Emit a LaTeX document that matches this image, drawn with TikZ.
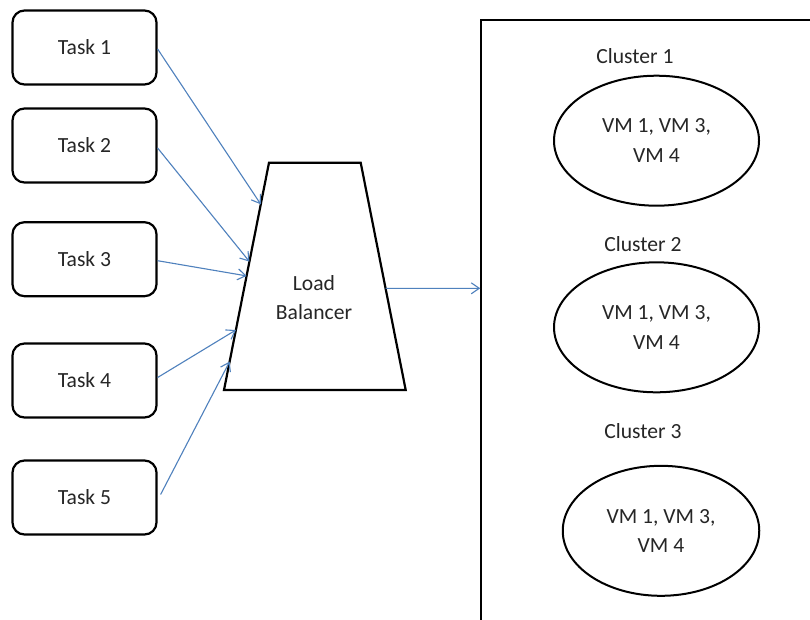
\documentclass[tikz,border=0pt]{standalone}
\usepackage{fontspec}
\setmainfont{Carlito}
\usetikzlibrary{shapes.geometric,arrows.meta,calc}
\definecolor{arrowblue}{HTML}{4F81BD}
\definecolor{txt}{HTML}{262626}
\begin{document}
\begin{tikzpicture}[x=1pt,y=-1pt,
  basefont/.style={font=\fontsize{21.6}{29.5}\selectfont, text=txt},
  taskbox/.style={basefont, draw=black, line width=2.2pt, rounded corners=12pt,
    minimum width=144pt, minimum height=74pt, inner sep=0pt},
  vmell/.style={basefont, ellipse, draw=black, line width=2pt, inner sep=0pt,
    align=center, minimum height=130pt},
  lbl/.style={basefont, anchor=base},
  flow/.style={draw=arrowblue, line width=1.1pt, -{Straight Barb[length=8pt,width=11pt]}}
]
\fill[white] (0,0) rectangle (810,619);
\clip (0,0) rectangle (810,619);

% task boxes
\node[taskbox] (t1) at (84.5,47.5) {Task 1};
\node[taskbox] (t2) at (84.5,145.5) {Task 2};
\node[taskbox] (t3) at (84.5,259.2) {Task 3};
\node[taskbox] (t4) at (84.5,380.5) {Task 4};
\node[taskbox] (t5) at (84.5,497.5) {Task 5};

% load balancer
\coordinate (lbtl) at (269,162.7);
\coordinate (lbtr) at (360.7,162.7);
\coordinate (lbbr) at (405.7,390);
\coordinate (lbbl) at (224,390);
\draw[line width=2.2pt, line join=miter] (lbtl) -- (lbtr) -- (lbbr) -- (lbbl) -- cycle;
\node[basefont, align=center] (lbtext) at (314,297.5) {Load\\Balancer};

% cluster frame
\coordinate (frbl) at (480.7,640);
\coordinate (frtl) at (480.7,20);
\coordinate (frtr) at (830,20);
\draw[line width=2.2pt] (frbl) -- (frtl) -- (frtr);
\coordinate (frin) at (480.2,288.3);

% clusters
\node[lbl] (c1) at (635,63.3) {Cluster 1};
\node[vmell, minimum width=205pt] (e1) at (656.5,140.7) {VM 1, VM 3,\\VM 4};
\node[lbl] (c2) at (643,251.7) {Cluster 2};
\node[vmell, minimum width=205pt] (e2) at (656.5,327.3) {VM 1, VM 3,\\VM 4};
\node[lbl] (c3) at (643,438.3) {Cluster 3};
\node[vmell, minimum width=196.5pt] (e3) at (661,530.8) {VM 1, VM 3,\\VM 4};

% connectors
\draw[flow] ([yshift=-1.5pt]t1.east) -- ($(lbbl)!0.817!(lbtl)$);
\draw[flow] ([yshift=-2.5pt]t2.east) -- ($(lbbl)!0.565!(lbtl)$);
\draw[flow] ([yshift=-1.5pt]t3.east) -- ($(lbbl)!0.502!(lbtl)$);
\draw[flow] ([yshift=3pt]t4.east) -- ($(lbbl)!0.264!(lbtl)$);
\draw[flow] ([xshift=3pt,yshift=3pt]t5.east) -- ($(lbbl)!0.125!(lbtl)$);
\draw[flow] ($(lbbr)!0.447!(lbtr)$) -- (frin);
\end{tikzpicture}
\end{document}
